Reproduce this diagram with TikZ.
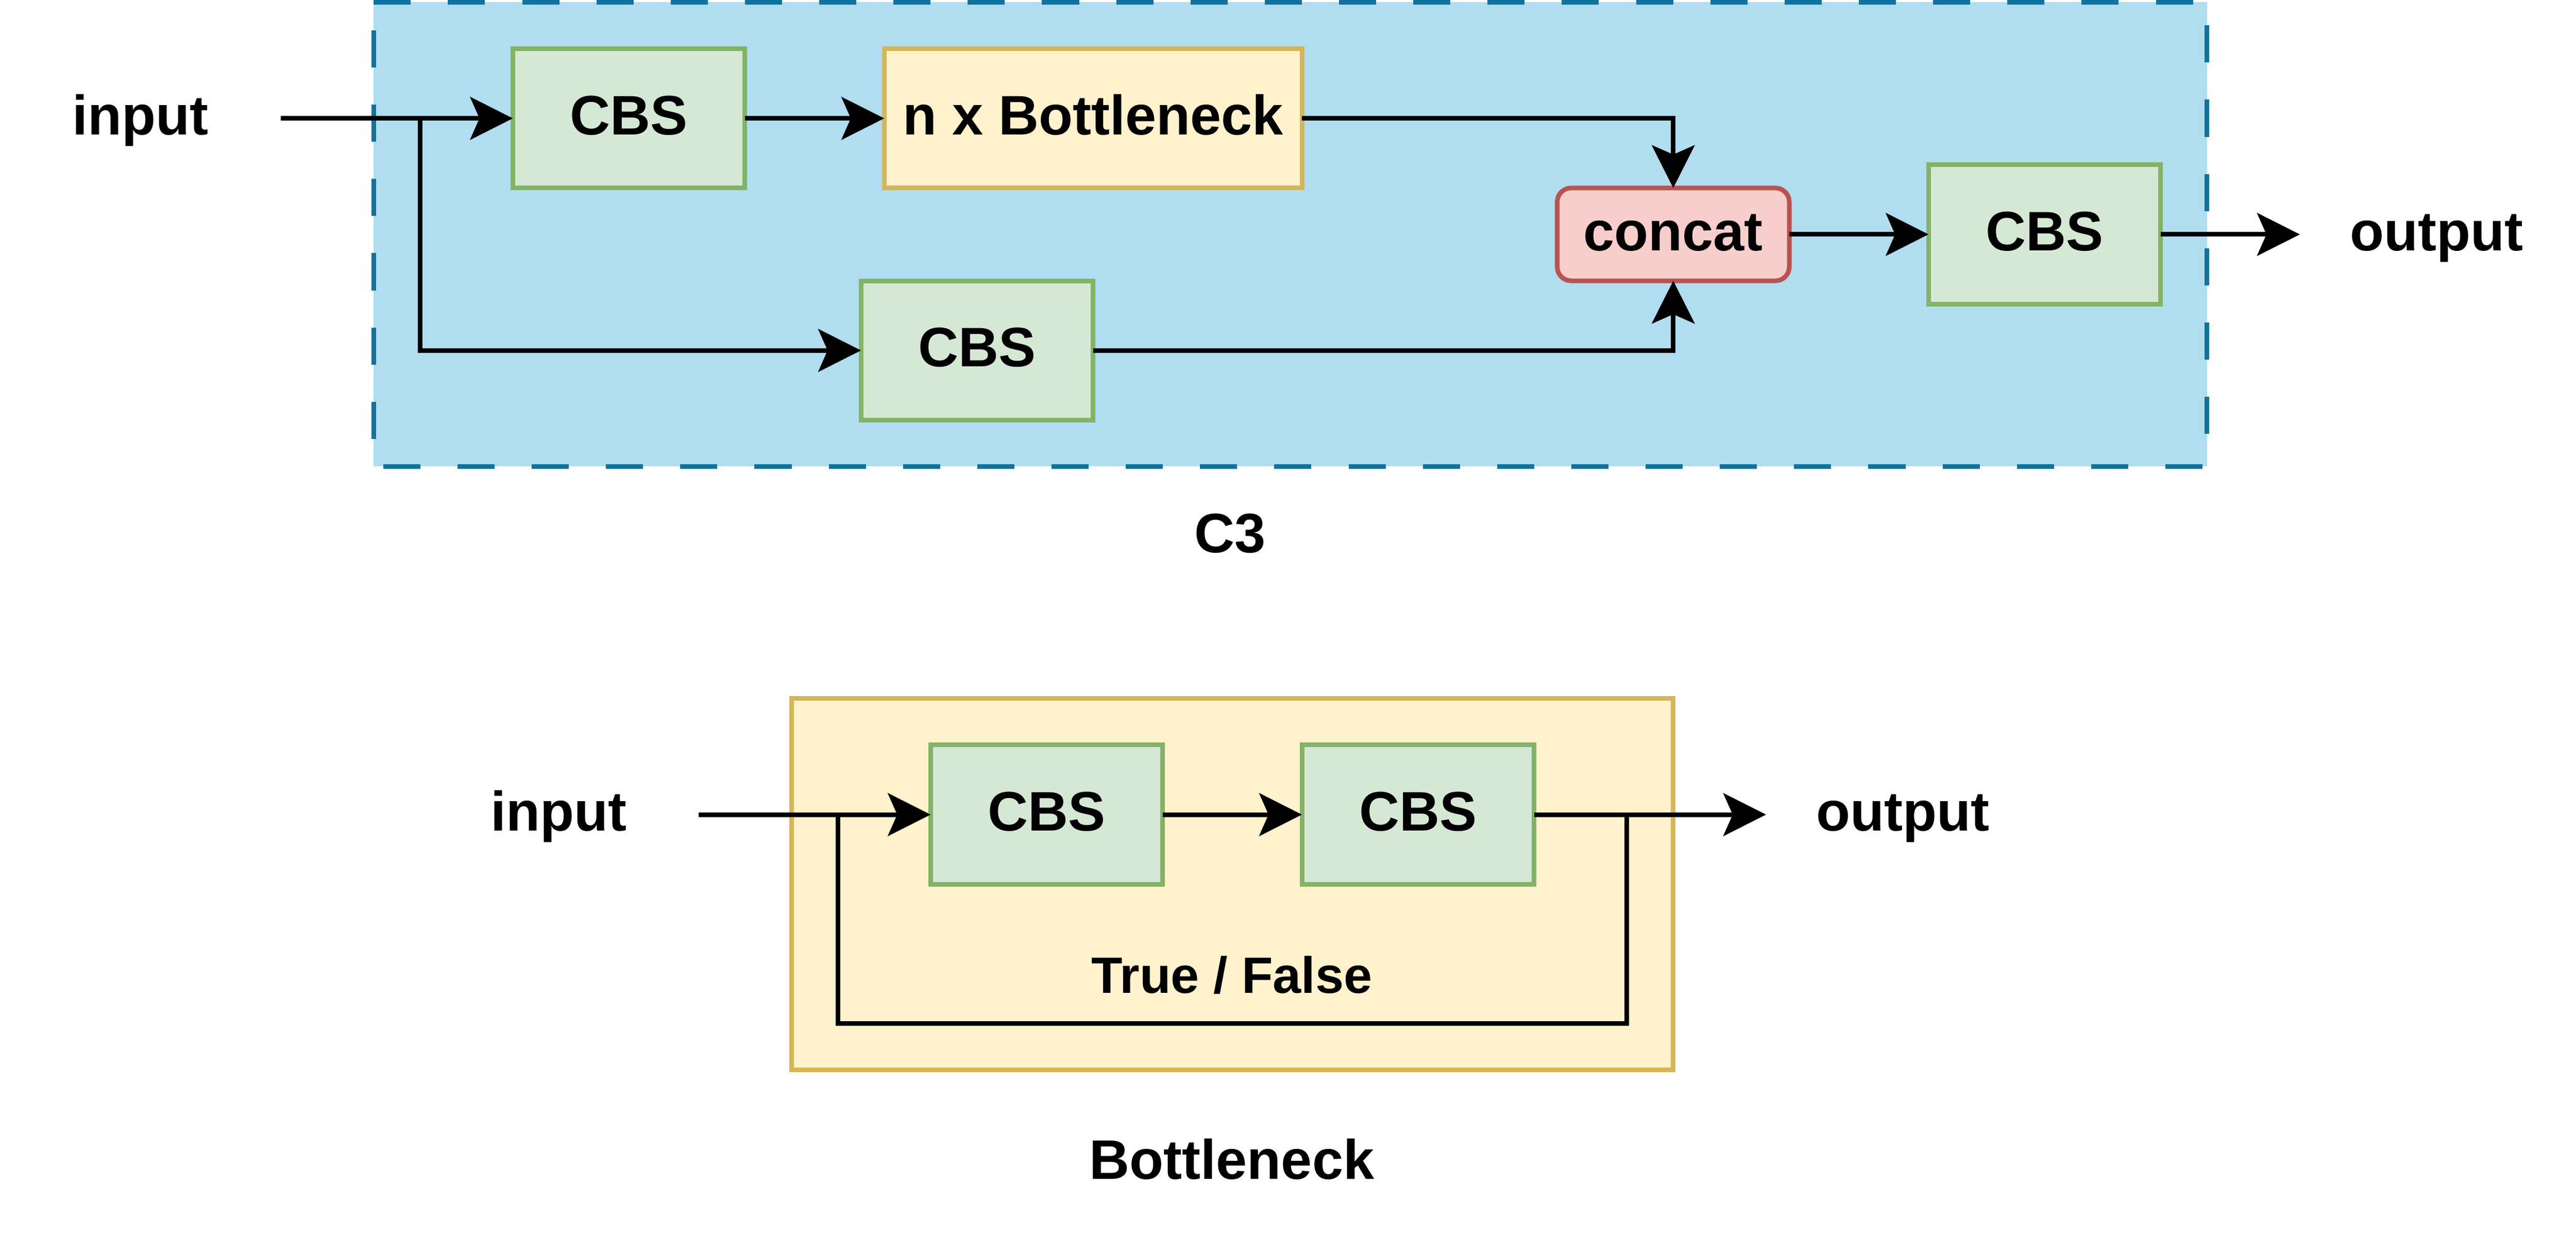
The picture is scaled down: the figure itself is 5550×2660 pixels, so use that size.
\documentclass[tikz,border=0pt]{standalone}
\usepackage{fontspec}
\setmainfont{Liberation Sans}
\usetikzlibrary{arrows.meta}
\definecolor{cthreefill}{HTML}{B1DDF0}
\definecolor{cthreedraw}{HTML}{10739E}
\definecolor{gfill}{HTML}{D5E8D4}
\definecolor{gdraw}{HTML}{82B366}
\definecolor{yfill}{HTML}{FFF2CC}
\definecolor{ydraw}{HTML}{D6B656}
\definecolor{rfill}{HTML}{F8CECC}
\definecolor{rdraw}{HTML}{B85450}
\begin{document}
\begin{tikzpicture}[x=0.1pt,y=-0.1pt,
  txt/.style={font=\bfseries\fontsize{12}{14}\selectfont},
  box/.style={txt, draw, line width=1pt, outer sep=0pt, inner sep=0pt,
    minimum height=30pt, text height=9pt, text depth=2pt, align=center},
  cbs/.style={box, fill=gfill, draw=gdraw, minimum width=50pt},
  ybox/.style={box, fill=yfill, draw=ydraw, minimum width=90pt},
  catbox/.style={box, fill=rfill, draw=rdraw, minimum width=50pt,
    minimum height=20pt, rounded corners=3pt},
  lbl/.style={txt, inner sep=0pt, anchor=base},
  wire/.style={line width=1pt},
  conn/.style={wire, -{Stealth[length=9.2pt,width=9.2pt,inset=2pt]}},
  c3frame/.style={draw=cthreedraw, line width=1pt, dash pattern=on 8pt off 8pt},
  bnframe/.style={draw=ydraw, fill=yfill, line width=1pt}]
\useasboundingbox (0,0) rectangle (5550,2660);

% ---------- C3 container ----------
\fill[cthreefill] (805,5) rectangle (4755,1005);
\draw[c3frame] (805,5) -- (4755,5) -- (4755,1005) -- (805,1005) -- cycle;

% ---------- Bottleneck container ----------
\draw[bnframe] (1705,1505) rectangle (3605,2305);

% ---------- C3 nodes ----------
\node[cbs] (cbs1) at (1355,255) {CBS};
\node[ybox] (bneck) at (2355,255) {n x Bottleneck};
\node[cbs] (cbs2) at (2105,755) {CBS};
\node[catbox] (concat) at (3605,505) {concat};
\node[cbs] (cbs3) at (4405,505) {CBS};

\node[lbl] (inA) at (302,290) {input};
\node[lbl] (outA) at (5250,540) {output};
\node[lbl] (c3lbl) at (2650,1190) {C3};

\coordinate (inAs) at (605,255);
\coordinate (splitA) at (905,255);
\coordinate (outAe) at (4955,505);

% ---------- Bottleneck nodes ----------
\node[cbs] (cbsa) at (2255,1755) {CBS};
\node[cbs] (cbsb) at (3055,1755) {CBS};

\node[lbl] (inB) at (1204,1790) {input};
\node[lbl] (outB) at (4100,1790) {output};
\node[lbl, font=\bfseries\fontsize{11}{13}\selectfont] (tf) at (2654,2140) {True / False};
\node[lbl] (bnlbl) at (2654,2540) {Bottleneck};

\coordinate (inBs) at (1505,1755);
\coordinate (splitB) at (1805,1755);
\coordinate (loopL) at (1805,2205);
\coordinate (loopR) at (3505,2205);
\coordinate (joinB) at (3505,1755);
\coordinate (outBe) at (3805,1755);

% ---------- C3 connectors ----------
\draw[conn] (inAs) -- (cbs1.west);
\draw[conn] (splitA) |- (cbs2.west);
\draw[conn] (cbs1.east) -- (bneck.west);
\draw[conn] (bneck.east) -| (concat.north);
\draw[conn] (cbs2.east) -| (concat.south);
\draw[conn] (concat.east) -- (cbs3.west);
\draw[conn] (cbs3.east) -- (outAe);

% ---------- Bottleneck connectors ----------
\draw[conn] (inBs) -- (cbsa.west);
\draw[conn] (cbsa.east) -- (cbsb.west);
\draw[conn] (cbsb.east) -- (outBe);
\draw[wire] (splitB) -- (loopL) -- (loopR) -- (joinB);
\end{tikzpicture}
\end{document}
